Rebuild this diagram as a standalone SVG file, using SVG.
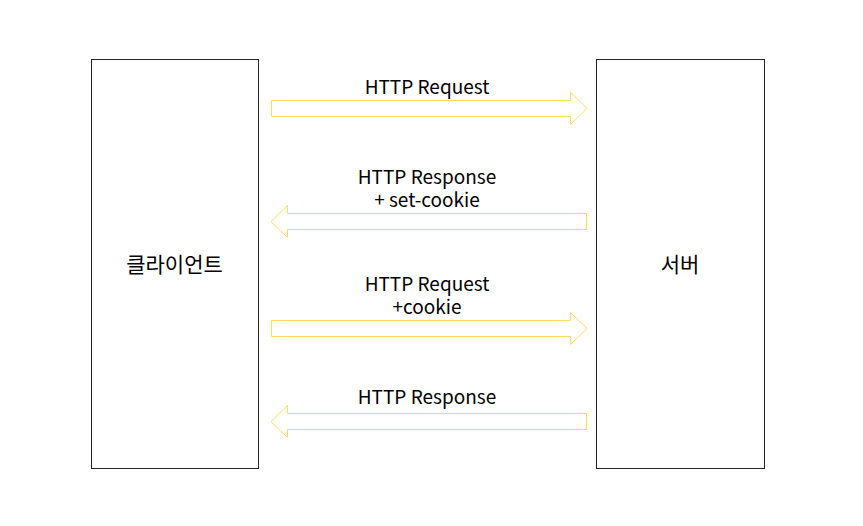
<svg xmlns="http://www.w3.org/2000/svg" width="863" height="526" viewBox="0 0 863 526">
<style>
.box{fill:#fff;stroke:#262626;stroke-width:1}
.arr{fill:#fff;stroke:#FFD966;stroke-width:1}
.t{font-family:"Noto Sans CJK KR","Noto Sans",sans-serif;font-size:19px;fill:#000;text-anchor:middle}
.k{font-size:21px}
</style>
<rect width="863" height="526" fill="#fff"/>
<g id="client">
<rect class="box" x="91.5" y="59.5" width="167" height="409"/>
<text class="t k" x="174.5" y="272">클라이언트</text>
</g>
<g id="server">
<rect class="box" x="596.5" y="59.5" width="168" height="409"/>
<text class="t k" x="680" y="272">서버</text>
</g>
<g id="connectors">
<g id="req1">
<polygon class="arr" points="271.5,100.5 570.5,100.5 570.5,92.5 587,108.5 570.5,124.5 570.5,116.5 271.5,116.5"/>
<text class="t" x="427" y="94">HTTP Request</text>
</g>
<g id="res1">
<polygon class="arr" points="586.5,213.5 287.5,213.5 287.5,205.5 271,221.5 287.5,237.5 287.5,229.5 586.5,229.5"/>
<text class="t" x="427" y="184"><tspan x="427">HTTP Response</tspan><tspan x="427" dy="22.5">+ set-cookie</tspan></text>
</g>
<g id="req2">
<polygon class="arr" points="271.5,320.5 570.5,320.5 570.5,312.5 587,328.5 570.5,344.5 570.5,336.5 271.5,336.5"/>
<text class="t" x="427" y="291"><tspan x="427">HTTP Request</tspan><tspan x="427" dy="22.5">+cookie</tspan></text>
</g>
<g id="res2">
<polygon class="arr" points="586.5,413.5 287.5,413.5 287.5,405.5 271,421.5 287.5,437.5 287.5,429.5 586.5,429.5"/>
<text class="t" x="427" y="404">HTTP Response</text>
</g>
</g>
</svg>
